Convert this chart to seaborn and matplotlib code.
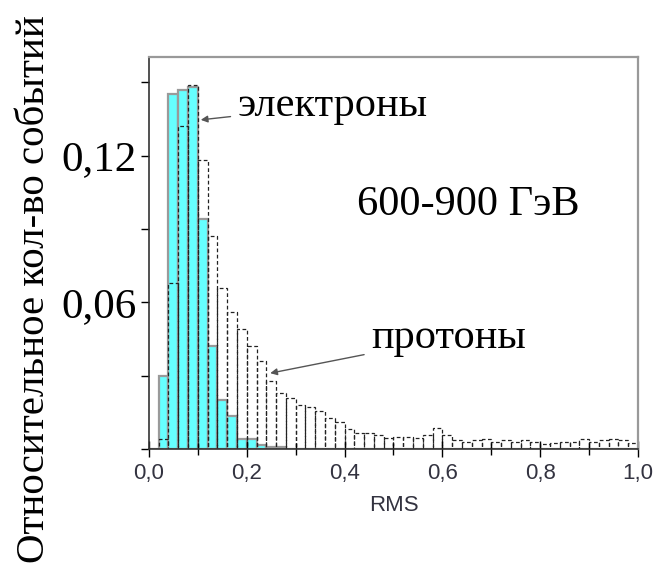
import numpy as np
import pandas as pd
import matplotlib
matplotlib.use("Agg")
import matplotlib.pyplot as plt
import seaborn as sns

# ---- data ----
bin_width = 0.02
bin_centers = [round(0.01 + 0.02 * i, 2) for i in range(50)]

electrons = [0.0, 0.030, 0.145, 0.147, 0.148, 0.094, 0.042, 0.020, 0.0135, 0.004,
             0.004, 0.0015, 0.001, 0.001, 0.0, 0.0, 0.0, 0.0, 0.0, 0.0,
             0.0, 0.0, 0.0, 0.0, 0.0, 0.0, 0.0, 0.0, 0.0, 0.0,
             0.0, 0.0, 0.0, 0.0, 0.0, 0.0, 0.0, 0.0, 0.0, 0.0,
             0.0, 0.0, 0.0, 0.0, 0.0, 0.0, 0.0, 0.0, 0.0, 0.0]

protons = [0.0, 0.004, 0.068, 0.132, 0.149, 0.118, 0.087, 0.066, 0.056, 0.049,
           0.042, 0.036, 0.028, 0.023, 0.021, 0.018, 0.017, 0.0155, 0.0125, 0.011,
           0.008, 0.0065, 0.0065, 0.0057, 0.0045, 0.005, 0.005, 0.0045, 0.0057, 0.0085,
           0.0057, 0.0035, 0.003, 0.0035, 0.004, 0.003, 0.0035, 0.003, 0.0035, 0.003,
           0.002, 0.0025, 0.003, 0.003, 0.004, 0.003, 0.0035, 0.004, 0.0035, 0.0025]

x_ticks = [0.0, 0.2, 0.4, 0.6, 0.8, 1.0]
x_tick_labels = ["0,0", "0,2", "0,4", "0,6", "0,8", "1,0"]
y_ticks = [0.06, 0.12]
y_tick_labels = ["0,06", "0,12"]

df = pd.DataFrame({"rms": bin_centers, "electrons": electrons, "protons": protons})

SERIF = ["Liberation Serif", "DejaVu Serif"]
SANS = ["Liberation Sans", "DejaVu Sans"]

fig = plt.figure(figsize=(6.56, 5.70), dpi=100)
ax = fig.add_axes([0.227, 0.2123, 0.9726 - 0.227, 0.9 - 0.2123])

sns.histplot(data=df, x="rms", weights="electrons", binwidth=bin_width, binrange=(0, 1),
             ax=ax, color="#66ffff", alpha=1.0, edgecolor="#9a9a9a", linewidth=1.6)
sns.histplot(data=df, x="rms", weights="protons", binwidth=bin_width, binrange=(0, 1),
             ax=ax, fill=False, color="#222222", linewidth=0.9, linestyle=(0, (3, 2)))

ax.set_xlim(0, 1.0)
ax.set_ylim(0, 0.1603)

ax.set_xticks(x_ticks)
ax.set_xticklabels(x_tick_labels, fontfamily=SANS, fontsize=16, color="#333340")
ax.set_xticks([0.1, 0.3, 0.5, 0.7, 0.9], minor=True)
ax.tick_params(axis="x", which="major", direction="inout", length=12, width=1, pad=4)
ax.tick_params(axis="x", which="minor", direction="inout", length=8, width=1)

ax.set_yticks(y_ticks)
ax.set_yticklabels(y_tick_labels, fontfamily=SERIF, fontsize=31, color="black")
ax.set_yticks([0.0, 0.03, 0.09, 0.15], minor=True)
ax.tick_params(axis="y", which="both", direction="out", length=6, width=1, pad=3)

for side in ["left", "bottom"]:
    ax.spines[side].set_color("#333333")
    ax.spines[side].set_linewidth(1.2)
for side in ["top", "right"]:
    ax.spines[side].set_color("#999999")
    ax.spines[side].set_linewidth(1.6)

ax.set_xlabel("RMS", fontfamily=SANS, fontsize=16, color="#333340", labelpad=8)
ax.set_ylabel("")
fig.text(0.052, 0.493, "Относительное кол-во событий", rotation=90,
         ha="center", va="center", fontfamily=SERIF, fontsize=29.5)

arrow = dict(arrowstyle="-|>", color="#555555", lw=1.0, mutation_scale=10,
             shrinkA=3, shrinkB=0)
ax.annotate("электроны", xy=(0.106, 0.1346), xytext=(0.181, 0.1405),
            ha="left", va="center", fontfamily=SERIF, fontsize=30.5, arrowprops=arrow)
ax.annotate("протоны", xy=(0.248, 0.031), xytext=(0.454, 0.0454),
            ha="left", va="center", fontfamily=SERIF, fontsize=30.5, arrowprops=arrow)
ax.text(0.426, 0.0998, "600-900 ГэВ", ha="left", va="center",
        fontfamily=SERIF, fontsize=30.5)

fig.savefig("out.png", dpi=100)
